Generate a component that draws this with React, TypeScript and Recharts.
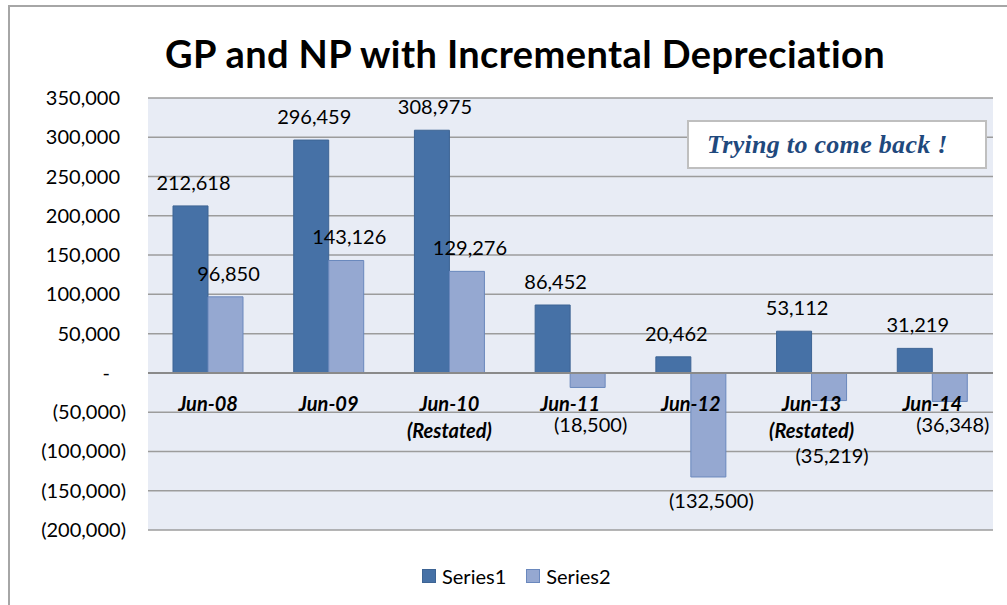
import React from 'react';
import { BarChart, Bar, XAxis, YAxis, CartesianGrid, ReferenceLine, LabelList } from 'recharts';

const categories = ['Jun-08', 'Jun-09', 'Jun-10\n(Restated)', 'Jun-11', 'Jun-12', 'Jun-13\n(Restated)', 'Jun-14'];
const series1 = [212618, 296459, 308975, 86452, 20462, 53112, 31219];
const series2 = [96850, 143126, 129276, -18500, -132500, -35219, -36348];
const yTicks = [350000, 300000, 250000, 200000, 150000, 100000, 50000, 0, -50000, -100000, -150000, -200000];

const data = categories.map((cat, i) => ({ cat, s1: series1[i], s2: series2[i] }));

const FONT = 'Lato, "Open Sans", sans-serif';
const BLUE1 = '#4671a6';
const BLUE2 = '#95a8d1';

function fmt(v: number) {
	if (v === 0) return '-';
	const s = Math.abs(v).toLocaleString('en-US');
	return v < 0 ? `(${s})` : s;
}

function YTick({ x, y, payload }: any) {
	const v = payload.value;
	// accounting style: positives leave room for ")", the dash sits further in
	const dx = v > 0 ? -6 : v === 0 ? -16 : 0;
	return (
		<text x={x + dx} y={y} dy="0.35em" textAnchor="end" fontSize={20} fontFamily={FONT} fill="#000">
			{fmt(v)}
		</text>
	);
}

function ValueLabel(props: any) {
	const { x, y, width, height, value, index } = props;
	const top = Math.min(y, y + height);
	const bottom = Math.max(y, y + height);
	let ty = top - 23;
	if (value < 0) {
		// keep negative labels clear of the category text under the zero line
		const twoLines = categories[index].includes('\n');
		ty = Math.max(bottom + 24, top + 52 + (twoLines ? 31 : 0));
	}
	return (
		<text x={x + width / 2 + 3} y={ty} dy="0.35em" textAnchor="middle" fontSize={20} fontFamily={FONT} fill="#000">
			{fmt(value)}
		</text>
	);
}

// drawn on the second series so the text sits over the bars; category centre = left edge of bar 2
function CategoryLabel(props: any) {
	const { x, y, height, index } = props;
	const top = Math.min(y, y + height);
	const bottom = Math.max(y, y + height);
	const zero = series2[index] >= 0 ? bottom : top;
	const lines = categories[index].split('\n');
	return (
		<text x={x} y={zero + 38} textAnchor="middle" fontSize={20} fontFamily={FONT} fontWeight="bold" fontStyle="italic" fill="#000">
			{lines.map((l, i) => (
				<tspan key={i} x={x} dy={i === 0 ? 0 : 27}>
					{l}
				</tspan>
			))}
		</text>
	);
}

export default function App() {
	return (
		<div style={{ position: 'fixed', left: 0, top: 0, width: 1007, height: 605, overflow: 'hidden', background: '#fff' }}>
			<BarChart
				width={1007}
				height={605}
				data={data}
				margin={{ top: 98, right: 14, bottom: 75, left: 0 }}
				barGap={0}
				barSize={35}
			>
				<CartesianGrid vertical={false} fill="#e8ecf5" stroke="#9c9c9c" strokeWidth={1.5} />
				<XAxis dataKey="cat" hide />
				<YAxis
					width={148}
					domain={[-200000, 350000]}
					ticks={yTicks}
					interval={0}
					tick={<YTick />}
					tickLine={false}
					axisLine={false}
					tickMargin={16}
				/>
				<ReferenceLine y={0} stroke="#8a8a8a" strokeWidth={2} />
				<Bar dataKey="s1" fill={BLUE1} stroke="#3d6494" strokeWidth={1} isAnimationActive={false}>
					<LabelList dataKey="s1" content={ValueLabel} />
				</Bar>
				<Bar dataKey="s2" fill={BLUE2} stroke="#6a88bd" strokeWidth={1} isAnimationActive={false}>
					<LabelList dataKey="s2" content={ValueLabel} />
					<LabelList dataKey="cat" content={CategoryLabel} />
				</Bar>
			</BarChart>

			<div
				style={{
					position: 'absolute',
					left: 0,
					top: 29,
					width: 1050,
					textAlign: 'center',
					fontFamily: FONT,
					fontWeight: 'bold',
					fontSize: 38,
					letterSpacing: 0.4,
					lineHeight: '48px',
					color: '#000',
				}}
			>
				GP and NP with Incremental Depreciation
			</div>

			<div
				style={{
					position: 'absolute',
					left: 687,
					top: 120,
					width: 300,
					height: 49,
					boxSizing: 'border-box',
					border: '2px solid #bfbfbf',
					background: '#fff',
					paddingLeft: 18,
					fontFamily: '"Liberation Serif", serif',
					fontWeight: 'bold',
					fontStyle: 'italic',
					fontSize: 26,
					letterSpacing: 0.3,
					lineHeight: '45px',
					color: '#1f497d',
					whiteSpace: 'nowrap',
				}}
			>
				Trying to come back !
			</div>

			<div
				style={{
					position: 'absolute',
					left: 422,
					top: 564,
					display: 'flex',
					alignItems: 'center',
					fontFamily: FONT,
					fontSize: 20,
					color: '#000',
				}}
			>
				<span style={{ width: 12, height: 12, background: BLUE1, border: '1px solid #3d6494' }} />
				<span style={{ marginLeft: 6 }}>Series1</span>
				<span style={{ width: 12, height: 12, background: BLUE2, border: '1px solid #6a88bd', marginLeft: 20 }} />
				<span style={{ marginLeft: 6 }}>Series2</span>
			</div>

			<div
				style={{
					position: 'absolute',
					left: 8,
					top: 5,
					width: 1010,
					height: 610,
					borderTop: '2px solid #a6a6a6',
					borderLeft: '2px solid #a6a6a6',
					pointerEvents: 'none',
				}}
			/>
		</div>
	);
}
